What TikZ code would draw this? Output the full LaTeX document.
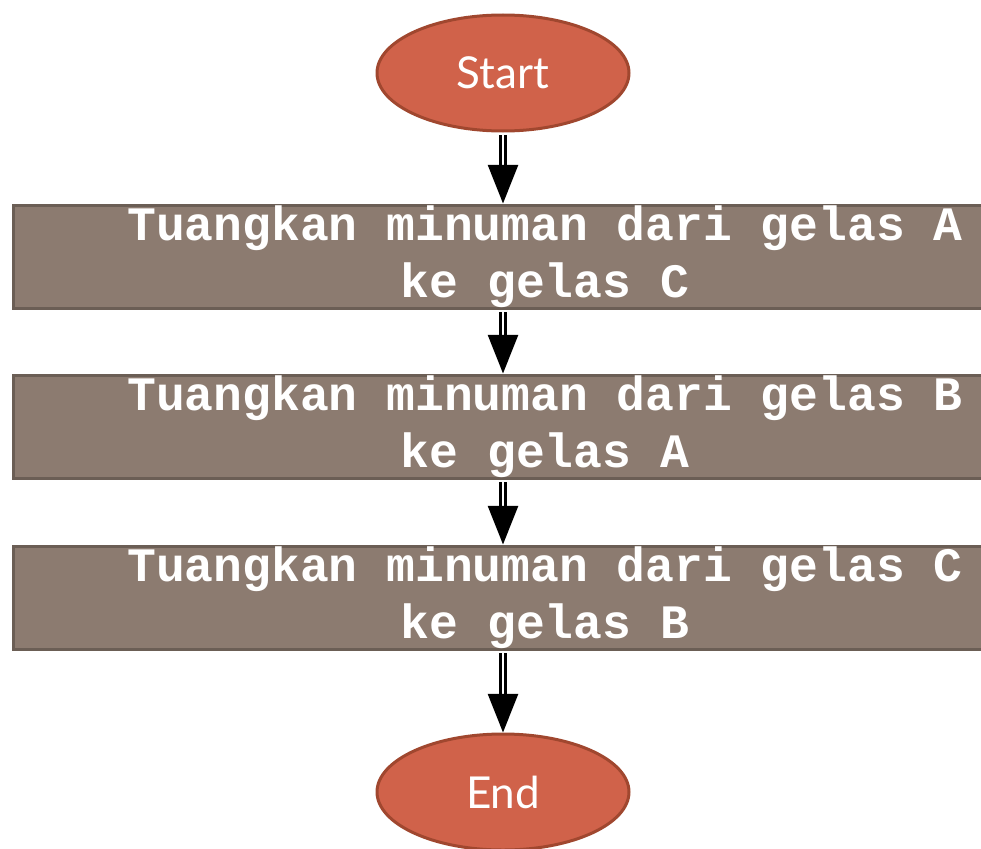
\documentclass[tikz,border=0pt]{standalone}
\usepackage{fontspec}
\setmainfont{Lato}
\newfontfamily\boxfont{Liberation Mono}
\usetikzlibrary{shapes.geometric,arrows.meta}

\definecolor{termfill}{HTML}{D0624A}
\definecolor{termline}{HTML}{A0472F}
\definecolor{stepfill}{HTML}{8C7B70}
\definecolor{stepline}{HTML}{6B5E55}

\tikzset{
  terminal/.style={ellipse, fill=termfill, draw=termline, line width=2.25pt,
    minimum width=189pt, minimum height=87pt, inner sep=0pt,
    text=white, font=\fontsize{33}{40}\selectfont},
  stepbox/.style={rectangle, fill=stepfill, draw=stepline, line width=2.25pt,
    minimum width=798pt, minimum height=77.25pt, inner sep=0pt,
    text=white, align=center,
    font=\boxfont\bfseries\fontsize{36}{43}\selectfont},
  flowarrow/.style={draw=black, double=white, double distance=2pt, line width=2pt,
    -{Triangle[length=29pt,width=22.5pt]}, shorten <=2pt}
}

\begin{document}
\begin{tikzpicture}[x=0.75pt,y=-0.75pt]
  \clip (0,0) rectangle (981,849);
  \fill[white] (0,0) rectangle (981,849);

  \node[terminal] (start) at (503,73) {Start};
  \node[stepbox] (s1) at (545,256.5) {Tuangkan minuman dari gelas A\\ke gelas C};
  \node[stepbox] (s2) at (545,426.5) {Tuangkan minuman dari gelas B\\ke gelas A};
  \node[stepbox] (s3) at (545,597.5) {Tuangkan minuman dari gelas C\\ke gelas B};
  \node[terminal] (end) at (503,792) {End};

  \draw[flowarrow] (start.south) -- (start.south |- s1.north);
  \draw[flowarrow] (start.south |- s1.south) -- (start.south |- s2.north);
  \draw[flowarrow] (start.south |- s2.south) -- (start.south |- s3.north);
  \draw[flowarrow] (start.south |- s3.south) -- (end.north);
\end{tikzpicture}
\end{document}
